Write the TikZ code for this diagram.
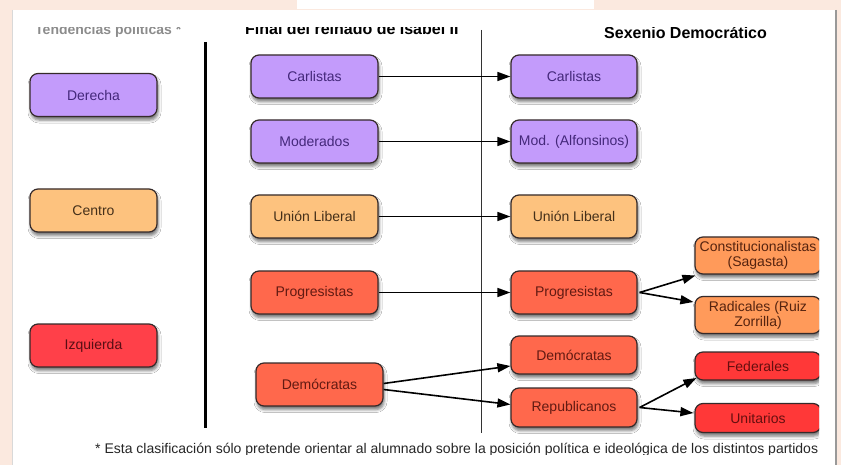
\documentclass[tikz,border=0pt]{standalone}
\usepackage{fontspec}
\setmainfont{Liberation Sans}
\usetikzlibrary{arrows.meta,shadows.blur}
\definecolor{bgpeach}{HTML}{FBE9DF}
\definecolor{cpurple}{HTML}{C39BFB}
\definecolor{tpurple}{HTML}{44287A}
\definecolor{corange}{HTML}{FDC27E}
\definecolor{torange}{HTML}{45301A}
\definecolor{ccoral}{HTML}{FF684C}
\definecolor{tcoral}{HTML}{621A12}
\definecolor{cred}{HTML}{FF4049}
\definecolor{tred}{HTML}{580E14}
\definecolor{corangeb}{HTML}{FF9A5A}
\definecolor{torangeb}{HTML}{55230F}
\definecolor{credb}{HTML}{FF3838}
\definecolor{tredb}{HTML}{650F0F}
\definecolor{boxline}{HTML}{352A2A}
\begin{document}
\begin{tikzpicture}[x=1pt,y=-1pt,
  box/.style={draw=boxline,line width=1.2pt,rounded corners=8pt,minimum width=127pt,minimum height=43pt,inner sep=0pt,align=center,font=\fontsize{14}{15}\selectfont,
    blur shadow={shadow xshift=1pt,shadow yshift=-3.5pt,shadow blur radius=3pt,shadow opacity=55}},
  purp/.style={box,fill=cpurple,text=tpurple},
  oran/.style={box,fill=corange,text=torange},
  coral/.style={box,fill=ccoral,text=tcoral},
  redb/.style={box,fill=cred,text=tred},
  oranb/.style={box,fill=corangeb,text=torangeb,minimum width=126pt},
  redc/.style={box,fill=credb,text=tredb,minimum width=126pt},
  arr/.style={line width=1.6pt,-{Triangle[length=13pt,width=9pt]}},
  head/.style={anchor=base west,inner sep=0pt,font=\bfseries\fontsize{16}{18}\selectfont}]
\useasboundingbox (0,0) rectangle (841,465);
\fill[bgpeach] (0,0) rectangle (841,465);
\fill[white] (297,0) rectangle (594,9);
\fill[white] (12,10) rectangle (835,465);
\draw[black!40,line width=2pt] (836,10) -- (836,465);
\draw[black!15,line width=1pt] (12,10) -- (12,465);
% headings (clipped at top)
\begin{scope}
\clip (0,27.5) rectangle (841,465);
\node[head,font=\bfseries\fontsize{14}{15}\selectfont,text=black!45] (htend) at (35,35) {Tendencias políticas *};
\node[head] (hfinal) at (245,35) {Final del reinado de Isabel II};
\node[head] (hsex) at (604,39) {Sexenio Democrático};
\end{scope}
% separators
\draw[line width=3pt] (205,42) -- (205,428);
\draw[line width=1pt,black!80] (481,30) -- (481,433);
% left column
\node[purp] (der) at (93.5,95) {Derecha};
\node[oran] (cen) at (93.5,210.5) {Centro};
\node[redb] (izq) at (93.5,345.5) {Izquierda};
% middle column
\node[purp] (carl1) at (314.5,76.5) {Carlistas};
\node[purp] (mod1) at (314.5,141.5) {Moderados};
\node[oran] (ul1) at (314.5,216.5) {Unión Liberal};
\node[coral] (prog1) at (314.5,292.5) {Progresistas};
\node[coral] (dem1) at (319.5,384.5) {Demócratas};
% right column
\node[purp,minimum width=126pt] (carl2) at (574,76.5) {Carlistas};
\node[purp,minimum width=126pt] (mod2) at (574,141.5) {Mod. (Alfonsinos)};
\node[oran,minimum width=126pt] (ul2) at (574,216.5) {Unión Liberal};
\node[coral,minimum width=126pt] (prog2) at (574,292.5) {Progresistas};
\node[coral,minimum width=126pt,minimum height=38pt] (dem2) at (574,355) {Demócratas};
\node[coral,minimum width=126pt,minimum height=39pt] (rep2) at (574,407.5) {Republicanos};
% far right (clipped)
\begin{scope}
\clip (0,0) rectangle (819,465);
\node[oranb,minimum height=37pt] (const) at (758,255.5) {Constitucionalistas\\(Sagasta)};
\node[oranb,minimum height=37pt] (rad) at (758,315) {Radicales (Ruiz\\Zorrilla)};
\node[redc,minimum height=28pt] (fed) at (758,366) {Federales};
\node[redc,minimum height=29pt] (uni) at (758,418) {Unitarios};
\end{scope}
% arrows
\draw[arr] (carl1.east) -- (carl2.west);
\draw[arr] (mod1.east) -- (mod2.west);
\draw[arr] (ul1.east) -- (ul2.west);
\draw[arr] (prog1.east) -- (prog2.west);
\draw[arr] ([yshift=1pt]dem1.east) -- ([yshift=-11pt]dem2.west);
\draw[arr] ([yshift=-5pt]dem1.east) -- ([yshift=3pt]rep2.west);
\draw[arr] ([xshift=2pt]prog2.east) -- ([yshift=-20pt,xshift=1pt]const.west);
\draw[arr] ([xshift=2pt]prog2.east) -- ([yshift=13pt,xshift=-1pt]rad.west);
\draw[arr] ([xshift=2pt]rep2.east) -- ([yshift=-12pt,xshift=2pt]fed.west);
\draw[arr] ([xshift=2pt]rep2.east) -- ([yshift=5pt,xshift=-1pt]uni.west);
% footnote (clipped at bottom)
\begin{scope}
\clip (0,0) rectangle (841,454);
\node[anchor=base west,inner sep=0pt,font=\fontsize{14}{15}\selectfont,text=black!85] (foot) at (95,453) {* Esta clasificación sólo pretende orientar al alumnado sobre la posición política e ideológica de los distintos partidos};
\end{scope}
\end{tikzpicture}
\end{document}
